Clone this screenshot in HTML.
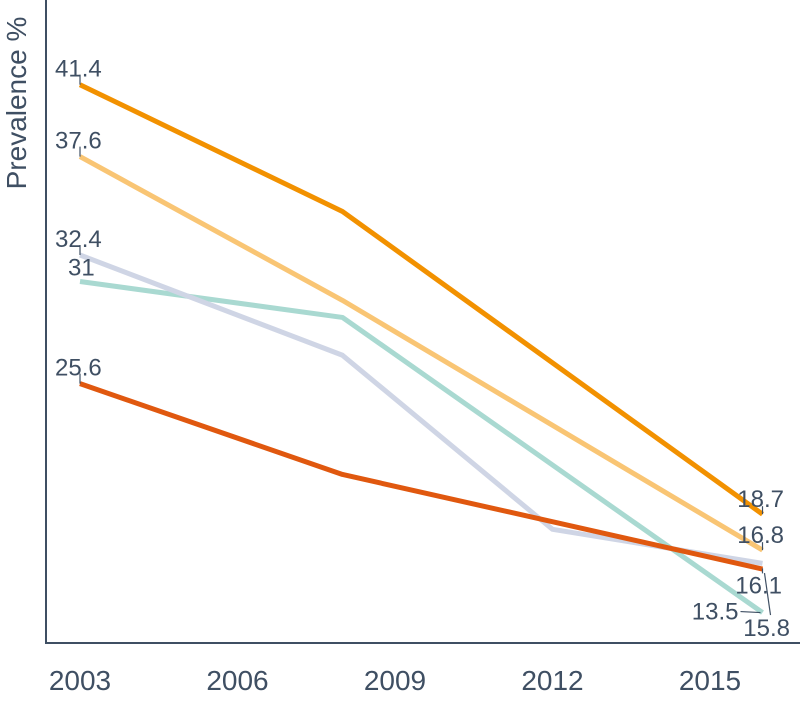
<!DOCTYPE html>
<html><head><meta charset="utf-8"><style>
body{margin:0;background:#fff;width:800px;height:700px;overflow:hidden}
svg text{font-family:"Liberation Sans",sans-serif;fill:#3f4f63}
</style></head><body>
<svg id="chart" width="800" height="700" xmlns="http://www.w3.org/2000/svg">
<g id="axes"></g><g id="lines"></g><g id="labels"></g>
</svg>
<script>
const years=[2003,2008,2012,2016];
const tickYears=[2003,2006,2009,2012,2015];
const seriesDark=[41.4,34.7,null,18.7];
const seriesLight=[37.6,30.0,null,16.8];
const seriesGrey=[32.4,27.1,17.9,16.1];
const seriesTeal=[31.0,29.1,null,13.5];
const seriesRed=[25.6,20.8,null,15.8];
const series=[
 {name:'series-dark-orange',v:seriesDark,c:'#f29100'},
 {name:'series-light-orange',v:seriesLight,c:'#f9c574'},
 {name:'series-teal',v:seriesTeal,c:'#a9d9d1'},
 {name:'series-grey',v:seriesGrey,c:'#cfd5e5'},
 {name:'series-red-orange',v:seriesRed,c:'#e0580f'}];
const X=y=>80+(y-2003)*52.5;
const Y=v=>868-v*18.92;
const NS='http://www.w3.org/2000/svg';
function mk(t,a,p){const e=document.createElementNS(NS,t);for(const k in a)e.setAttribute(k,a[k]);p.appendChild(e);return e;}
const ax=document.getElementById('axes');
let yl=mk('line',{x1:46,y1:0,x2:46,y2:643,stroke:'#3f4f63','stroke-width':2},ax);


let xl=mk('line',{x1:45,y1:643,x2:800,y2:643,stroke:'#3f4f63','stroke-width':2},ax);


tickYears.forEach(y=>{const t=mk('text',{x:X(y),y:690,'text-anchor':'middle','font-size':28},ax);t.textContent=y;

});
const tt=mk('text',{x:0,y:0,transform:'translate(26,103) rotate(-90)','text-anchor':'middle','font-size':28},ax);
tt.textContent='Prevalence %';


const lg=document.getElementById('lines');
series.forEach(s=>{const pts=[];s.v.forEach((v,i)=>{if(v!==null)pts.push(X(years[i])+','+Y(v));});
const p=mk('polyline',{points:pts.join(' '),fill:'none',stroke:s.c,'stroke-width':5,'stroke-linejoin':'round'},lg);

});
const lb=document.getElementById('labels');
function label(txt,x,y,anchor,lx){const t=mk('text',{x:x,y:y,'text-anchor':anchor,'font-size':24},lb);t.textContent=txt;


if(lx!==undefined){mk('polyline',{points:lx,fill:'none',stroke:'#3f4f63','stroke-width':1.2},lb);}}
const x0=X(2003),x3=X(2016);
[seriesDark,seriesLight,seriesGrey,seriesRed].forEach(s=>{const y=Y(s[0]);label(String(s[0]),55,y-8,'start',x0+','+(y-10)+' '+x0+','+y);});
label(String(seriesTeal[0]),68,Y(seriesTeal[0])-6,'start');
label(String(seriesDark[3]),784,Y(seriesDark[3])-7,'end',x3+','+(Y(seriesDark[3])-8)+' '+x3+','+Y(seriesDark[3]));
label(String(seriesLight[3]),784,Y(seriesLight[3])-7,'end',x3+','+(Y(seriesLight[3])-8)+' '+x3+','+Y(seriesLight[3]));
label(String(seriesGrey[3]),782,Y(seriesGrey[3])+30,'end',x3+','+(Y(seriesGrey[3])+5)+' '+x3+','+(Y(seriesGrey[3])+10));
label(String(seriesTeal[3]),x3-24,Y(seriesTeal[3])+7,'end',(x3-22)+','+(Y(seriesTeal[3])-1)+' '+(x3-2)+','+Y(seriesTeal[3]));
label(String(seriesRed[3]),790,Y(seriesRed[3])+67,'end',(x3+2)+','+(Y(seriesRed[3])+4)+' '+(x3+8)+','+(Y(seriesRed[3])+46));
</script>
</body></html>
